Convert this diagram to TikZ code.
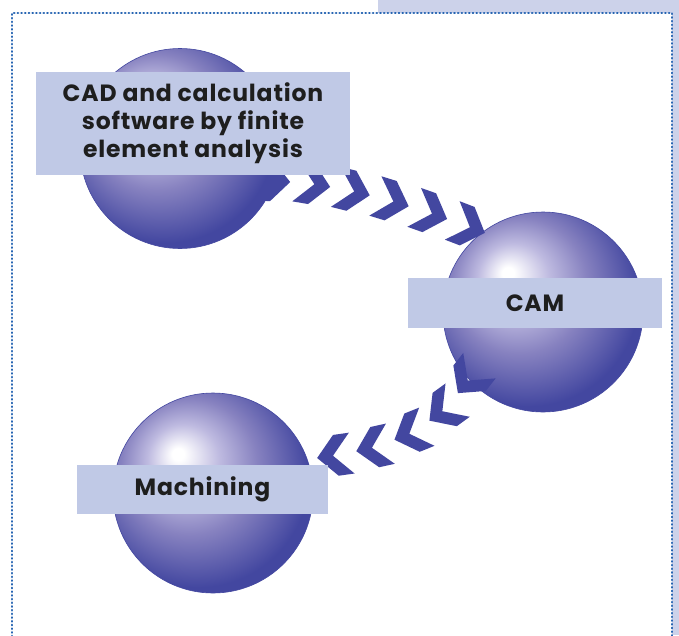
\documentclass[tikz,border=0pt]{standalone}
\usepackage{fontspec}
\setmainfont{Poppins}[LetterSpace=3.5]
\usetikzlibrary{decorations.markings}
\definecolor{sphdark}{RGB}{67,71,160}
\definecolor{sphmid}{RGB}{135,130,192}
\definecolor{sphlight}{RGB}{190,186,224}
\definecolor{boxfill}{RGB}{192,201,230}
\definecolor{bgblue}{RGB}{204,210,234}
\definecolor{dotblue}{RGB}{38,100,178}
\definecolor{txt}{RGB}{30,30,30}
\pgfdeclareradialshading{sphereshade}{\pgfpoint{-9bp}{10bp}}{color(0bp)=(white); color(1.5bp)=(white); color(9bp)=(sphlight); color(17bp)=(sphmid); color(28bp)=(sphdark); color(50bp)=(sphdark)}
\newcommand\chevshape{\fill[sphdark] (-34.9,20.6) -- (-18.9,20.6) -- (0,0) -- (-18.9,-20.6) -- (-34.9,-20.6) -- (-16,0) -- cycle;}
\begin{document}
\begin{tikzpicture}[x=1pt,y=-1pt,
  sphere/.style={circle, minimum size=200pt, inner sep=0pt, shading=sphereshade, draw=sphdark, line width=0.6pt},
  labelbox/.style={fill=boxfill, inner sep=0pt, align=center, text=txt, font=\bfseries\fontsize{23.5}{28}\selectfont},
  dotborder/.style={draw=dotblue, line width=2.5pt, line cap=round, dash pattern=on 0.4pt off 3.3pt},
  chevrons1/.style={decorate, decoration={markings,
     mark=at position 0.001 with {\chevshape},
     mark=at position 0.2 with {\chevshape},
     mark=at position 0.4 with {\chevshape},
     mark=at position 0.6 with {\chevshape},
     mark=at position 0.8 with {\chevshape},
     mark=at position 0.999 with {\chevshape}}},
  chevrons2/.style={decorate, decoration={markings,
     mark=at position 0.001 with {\chevshape},
     mark=at position 0.25 with {\chevshape},
     mark=at position 0.5 with {\chevshape},
     mark=at position 0.75 with {\chevshape},
     mark=at position 0.999 with {\chevshape}}}
]
\useasboundingbox (0,0) rectangle (679,635);
% background
\fill[bgblue] (378,0) rectangle (679,635);
\fill[white] (12,13) rectangle (672,640);
\draw[dotborder] (12,640) -- (12,13) -- (672,13) -- (672,640);
% spheres
\node[sphere] (s1) at (180,148.5) {};
\node[sphere] (s2) at (543,312) {};
\node[sphere] (s3) at (213,493) {};
% chevron connectors
\coordinate (p1s) at (290,182);
\coordinate (p1a) at (354.8,186.5);
\coordinate (p1b) at (424.3,209.7);
\coordinate (p1e) at (485,233);
\path[chevrons1] (p1s) .. controls (p1a) and (p1b) .. (p1e);
\coordinate (p2s) at (458,393);
\coordinate (p2a) at (421,440.3);
\coordinate (p2b) at (366.5,451);
\coordinate (p2e) at (317,458);
\path[chevrons2] (p2s) .. controls (p2a) and (p2b) .. (p2e);
% labels
\node[labelbox, minimum width=314pt, minimum height=103pt] (t1) at (193,123.5) {CAD and calculation\\software by finite\\element analysis};
\node[labelbox, minimum width=254pt, minimum height=50pt] (t2) at (535,303) {CAM};
\node[labelbox, minimum width=251pt, minimum height=49pt] (t3) at (202.5,489.5) {Machining};
\end{tikzpicture}
\end{document}
